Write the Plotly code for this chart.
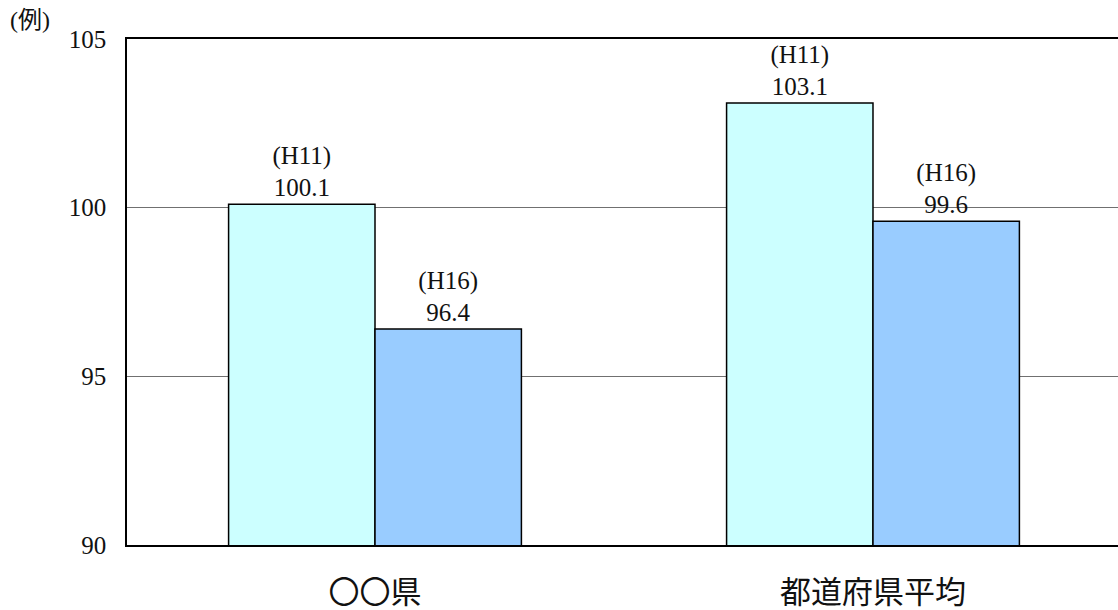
import plotly.graph_objects as go

categories = ["〇〇県", "都道府県平均"]
series_names = ["H11", "H16"]
h11_values = [100.1, 103.1]
h16_values = [96.4, 99.6]
y_ticks = [90, 95, 100, 105]
unit_label = "(例)"

FONT = "Liberation Serif, Noto Sans CJK JP, serif"

fig = go.Figure()
for name, vals, color in [(series_names[0], h11_values, "#CCFFFF"),
                          (series_names[1], h16_values, "#99CCFF")]:
    fig.add_trace(go.Bar(
        x=categories, y=vals, name=name,
        marker=dict(color=color, line=dict(color="#000000", width=1.5)),
        text=[f"({name})<br>{v:.1f}" for v in vals],
        textposition="outside",
        textfont=dict(family=FONT, size=25, color="#111111"),
        cliponaxis=False,
    ))

fig.add_annotation(text=unit_label, xref="paper", yref="paper",
                   x=-0.12, y=1.038, xanchor="left", yanchor="middle",
                   showarrow=False, font=dict(family=FONT, size=24, color="#111111"))

fig.update_layout(
    width=1118, height=610,
    margin=dict(l=127, r=0, t=39, b=65),
    paper_bgcolor="white", plot_bgcolor="white",
    barmode="group", bargap=0.412, bargroupgap=0,
    showlegend=False,
    font=dict(family=FONT, color="#111111"),
    xaxis=dict(range=[-0.498, 1.492], showline=True, linecolor="black", linewidth=1.5,
               mirror=True, ticks="", tickfont=dict(size=31, family=FONT),
               ticklabelstandoff=19, showgrid=False),
    yaxis=dict(range=[90, 105], tickvals=y_ticks, showline=True, linecolor="black",
               linewidth=1.5, showgrid=True, gridcolor="#707070", gridwidth=1,
               ticks="", tickfont=dict(size=25, family=FONT), ticklabelstandoff=14,
               zeroline=False),
)

fig.write_html("out.html")
